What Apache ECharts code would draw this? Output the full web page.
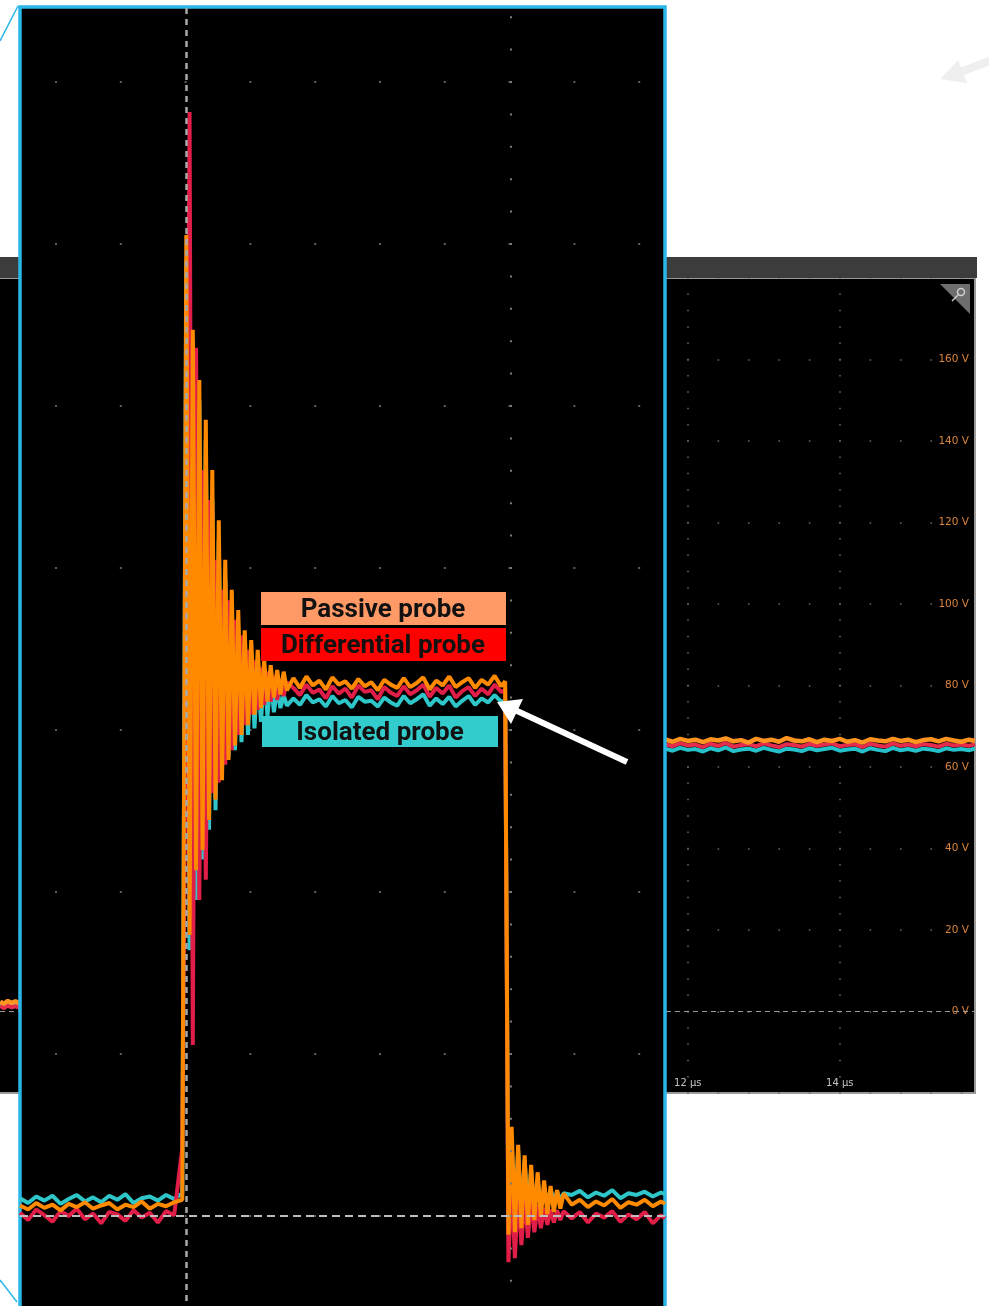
<!DOCTYPE html>
<html>
<head>
<meta charset="utf-8">
<title>Probe comparison</title>
<script src="https://cdn.jsdelivr.net/npm/echarts@6.0.0/dist/echarts.min.js"></script>
<style>
  html, body { margin: 0; padding: 0; background: #fff; }
  #main { width: 989px; height: 1306px; }
</style>
</head>
<body>
<div id="main"></div>
<script>
// full scope screen (time in µs, volts)
const scopeTime = [2.95, 3.0, 3.05, 3.1, 3.15, 3.2, 3.25,
  11.7, 11.8, 11.9, 12.0, 12.1, 12.2, 12.3, 12.4, 12.5, 12.6, 12.7, 12.8, 12.9,
  13.0, 13.1, 13.2, 13.3, 13.4, 13.5, 13.6, 13.7, 13.8, 13.9, 14.0, 14.1, 14.2, 14.3,
  14.4, 14.5, 14.6, 14.7, 14.8, 14.9, 15.0, 15.1, 15.2, 15.3, 15.4, 15.5, 15.6, 15.7, 15.78];
const scopePassive = [2.4, 1.9, 2.6, 2.1, 2.5, 2.0, null,
  66.8, 66.2, 66.9, 66.4, 66.7, 66.1, 66.8, 66.5, 67.0, 66.3, 66.6, 66.0, 66.9, 66.4,
  66.7, 66.2, 67.1, 66.5, 66.3, 66.8, 66.1, 66.7, 66.4, 66.9, 66.2, 66.6, 66.0, 66.8,
  66.5, 66.3, 66.9, 66.4, 66.7, 66.1, 66.6, 66.8, 66.3, 66.9, 66.5, 66.2, 66.7, 66.4];
const scopeDifferential = [1.4, 0.8, 1.5, 1.0, 1.3, 0.9, null,
  65.6, 65.1, 65.8, 65.3, 65.5, 64.9, 65.7, 65.2, 65.9, 65.0, 65.4, 65.6, 65.1, 65.8,
  65.3, 64.9, 65.6, 65.4, 65.0, 65.7, 65.2, 65.5, 65.8, 65.1, 65.4, 65.6, 64.9, 65.7,
  65.3, 65.0, 65.8, 65.2, 65.5, 65.1, 65.6, 65.4, 65.0, 65.7, 65.3, 65.5, 65.2, 65.6];
const scopeIsolated = [2.0, 1.6, 2.2, 1.7, 2.1, 1.5, null,
  64.5, 64.0, 64.7, 64.2, 64.4, 63.8, 64.6, 64.1, 64.8, 63.9, 64.3, 64.5, 64.0, 64.7,
  64.2, 63.8, 64.5, 64.3, 63.9, 64.6, 64.1, 64.4, 64.7, 64.0, 64.3, 64.5, 63.8, 64.6,
  64.2, 63.9, 64.7, 64.1, 64.4, 64.0, 64.5, 64.3, 63.9, 64.6, 64.2, 64.4, 64.1, 64.5];

// zoomed inset (time in ns from trigger, volts)
const zoomTime = [
  -1025, -975, -925, -875, -825, -775, -725, -675, -625, -575, -525, -475, -425, -375, -325, -275, -225, -175, -125, -75, -25,
  0, 20, 40, 60, 80, 100, 120, 140, 160, 180, 200, 220, 240, 260, 280, 300, 320, 340, 360, 380, 400, 420, 440, 460, 480, 500, 520, 540, 560, 580, 600, 620,
  660, 700, 740, 780, 820, 860, 900, 940, 980, 1020, 1060, 1100, 1140, 1180, 1220, 1260, 1300, 1340, 1380, 1420, 1460, 1500, 1540, 1580, 1620, 1660, 1700, 1740, 1780, 1820, 1860, 1900, 1940,
  1965,
  1985, 2005, 2025, 2045, 2065, 2085, 2105, 2125, 2145, 2165, 2185, 2205, 2225, 2245, 2265, 2285, 2305, 2325,
  2375, 2425, 2475, 2525, 2575, 2625, 2675, 2725, 2775, 2825, 2875, 2925, 2950];
const zoomPassive = [
  1.3, 0.8, 1.6, 1.0, 1.4, 0.7, 1.5, 1.1, 1.7, 0.9, 1.3, 1.6, 0.8, 1.4, 1.1, 1.8, 0.9, 1.5, 1.2, 1.7, 2.0,
  121.1, 34.7, 109.4, 42.7, 103.2, 45.2, 98.3, 48.9, 92.1, 51.4, 85.9, 53.8, 81.0, 56.3, 77.3, 58.1, 74.8, 59.4, 72.3, 60.6, 71.1, 61.9, 69.9, 62.7, 68.6, 63.5, 68.0, 64.0, 67.4, 64.4, 67.2, 64.9,
  66.4, 65.2, 66.6, 65.5, 66.1, 65.0, 66.5, 65.6, 66.0, 65.1, 66.3, 65.4, 65.9, 64.9, 66.2, 65.6, 65.2, 66.4, 65.3, 65.8, 66.5, 65.0, 66.1, 65.5, 66.6, 65.3, 65.9, 66.4, 65.2, 66.2, 65.6, 66.7, 65.4,
  66.0,
  -2.3, 11.0, -2.0, 8.8, -1.5, 7.5, -1.1, 6.3, -0.5, 5.4, -0.1, 4.4, 0.2, 3.7, 0.5, 3.2, 0.9, 2.8,
  1.4, 2.0, 1.1, 1.8, 1.3, 2.1, 1.0, 1.7, 1.4, 2.0, 1.2, 1.8, 1.5];
const zoomDifferential = [
  0.4, -0.5, 0.8, 0.1, -0.7, 0.6, 0.0, 0.9, -0.4, 0.3, -0.9, 0.5, 0.2, -0.6, 0.7, -0.2, 0.4, -0.8, 0.6, 0.1, 8.4,
  70.0, 136.3, 21.1, 107.2, 39.0, 92.1, 41.5, 88.4, 52.2, 81.0, 53.5, 77.3, 55.7, 76.0, 57.5, 73.6, 59.4, 71.7, 60.6, 69.9, 61.9, 68.6, 62.5, 67.7, 63.1, 67.2, 63.5, 66.7, 63.7, 66.2, 64.2, 65.9,
  65.2, 64.3, 65.6, 64.6, 65.0, 63.9, 65.4, 64.5, 65.1, 64.0, 65.5, 64.7, 64.9, 63.8, 65.3, 64.6, 64.2, 65.4, 64.4, 64.9, 65.6, 64.1, 65.2, 64.5, 65.5, 64.0, 64.8, 65.3, 64.2, 65.1, 64.4, 65.6, 64.7,
  64.9,
  -5.7, 4.4, -5.2, 3.2, -3.6, 2.6, -2.7, 2.0, -2.0, 1.4, -1.5, 1.0, -1.1, 0.8, -0.8, 0.7, -0.5, 0.6,
  -0.3, 0.5, -0.8, 0.3, -0.2, 0.6, -0.7, 0.2, -0.4, 0.5, -0.9, 0.1, -0.3];
const zoomIsolated = [
  2.2, 1.6, 2.4, 1.9, 2.5, 1.5, 2.1, 2.6, 1.8, 2.3, 1.7, 2.5, 2.0, 2.7, 1.6, 2.2, 2.4, 1.9, 2.6, 2.1, 2.8,
  118.0, 32.8, 108.1, 39.0, 100.7, 44.0, 95.8, 47.7, 88.4, 50.1, 83.5, 55.1, 78.5, 56.7, 74.8, 57.5, 72.3, 58.5, 70.5, 59.4, 69.3, 60.2, 68.0, 61.0, 67.2, 61.7, 66.2, 62.2, 65.2, 62.7, 64.3, 63.0,
  63.9, 63.1, 64.3, 63.4, 63.8, 62.9, 64.2, 63.3, 63.7, 62.8, 64.1, 63.5, 63.6, 62.9, 64.0, 63.4, 63.0, 64.2, 63.3, 63.8, 64.4, 63.0, 63.9, 63.2, 64.1, 62.9, 63.6, 64.2, 63.1, 63.9, 63.4, 64.3, 63.5,
  63.6,
  -1.7, 9.4, -1.1, 8.1, -0.5, 6.9, 0.1, 5.7, 0.7, 4.4, 1.2, 3.5, 1.5, 3.3, 1.8, 3.0, 2.0, 2.8,
  2.6, 3.1, 2.3, 2.9, 2.5, 3.2, 2.2, 2.8, 2.6, 3.0, 2.4, 2.9, 2.7];

const voltTicks = [0, 20, 40, 60, 80, 100, 120, 140, 160];
const timeTicks = [12, 14];
const probeLabels = ['Passive probe', 'Differential probe', 'Isolated probe'];

const pairs = (t, v) => t.map((x, i) => [x, v[i]]);

const chart = echarts.init(document.getElementById('main'), null, { renderer: 'canvas' });

const trace = (name, t, v, color, axis, z, width) => ({
  name: name,
  type: 'line',
  xAxisIndex: axis,
  yAxisIndex: axis,
  data: pairs(t, v),
  showSymbol: false,
  symbol: 'none',
  z: z,
  lineStyle: { color: color, width: width, join: 'bevel' },
  silent: true
});

const zoomOrange = trace(probeLabels[0], zoomTime, zoomPassive, '#ff8a00', 1, 7, 4);
zoomOrange.markLine = {
  silent: true,
  symbol: 'none',
  z: 8,
  label: { show: false },
  animation: false,
  data: [
    { xAxis: 0, lineStyle: { color: '#a8a8a8', width: 2.5, type: [6, 5] } },
    { yAxis: 0, lineStyle: { color: '#bdbdbd', width: 2, type: [8, 5] } },
    { xAxis: 2000, lineStyle: { color: '#7a7a7a', width: 2, type: [2, 30.4], dashOffset: 1 } }
  ]
};

const scopeOrange = trace(probeLabels[0], scopeTime, scopePassive, '#ff9420', 0, 2, 4.5);
scopeOrange.markLine = {
  silent: true,
  symbol: 'none',
  z: 1,
  label: { show: false },
  animation: false,
  data: [{ yAxis: 0, lineStyle: { color: '#9a9a9a', width: 1, type: [5, 4] } }]
};

chart.setOption({
  animation: false,
  backgroundColor: '#fff',
  grid: [
    { left: -72, right: 14, top: 278, bottom: 213, show: true, backgroundColor: '#000',
      borderColor: '#9a9a9a', borderWidth: 2, outerBoundsMode: 'none', containLabel: false, z: 0 },
    { left: 20, right: 324, top: 7, bottom: -72, show: true, backgroundColor: '#000',
      borderColor: '#2bb6e8', borderWidth: 3.5, outerBoundsMode: 'none', containLabel: false, z: 3 }
  ],
  xAxis: [
    { type: 'value', gridIndex: 0, min: 2, max: 15.78, interval: 2,
      axisLine: { show: false }, axisTick: { show: false },
      axisLabel: { inside: true, margin: 5, color: '#c4c4c4', fontSize: 10, fontFamily: 'DejaVu Sans',
        formatter: v => timeTicks.includes(v) ? v + ' µs' : '' },
      splitLine: { show: true, showMaxLine: false,
        lineStyle: { color: '#6a6a6a', width: 1.5, type: [1.5, 14.8], dashOffset: 0.75 } } },
    { type: 'value', gridIndex: 1, min: -1025, max: 2950, show: false, splitLine: { show: false } }
  ],
  yAxis: [
    { type: 'value', gridIndex: 0, position: 'right', min: -20, max: 180, interval: 20,
      axisLine: { show: false }, axisTick: { show: false },
      axisLabel: { inside: true, margin: 5, color: '#d9843c', fontSize: 10.5, fontFamily: 'DejaVu Sans',
        backgroundColor: '#000', padding: [0, 1],
        formatter: v => voltTicks.includes(v) ? v + ' V' : '' },
      splitLine: { show: true,
        lineStyle: { color: '#6a6a6a', width: 1.5, type: [1.5, 28.9], dashOffset: 0.75 } } },
    { type: 'value', gridIndex: 1, min: -20, max: 149.26, interval: 20, z: 4,
      axisLine: { show: false }, axisTick: { show: false }, axisLabel: { show: false },
      splitLine: { show: true, showMaxLine: false,
        lineStyle: { color: '#5e5e5e', width: 2, type: [2, 62.8], dashOffset: 29.8 } } }
  ],
  series: [
    trace(probeLabels[2], scopeTime, scopeIsolated, '#25c2cc', 0, 2, 4),
    trace(probeLabels[1], scopeTime, scopeDifferential, '#e62c4c', 0, 2, 4),
    scopeOrange,
    trace(probeLabels[2], zoomTime, zoomIsolated, '#2ec6c8', 1, 5, 4),
    trace(probeLabels[1], zoomTime, zoomDifferential, '#e01e48', 1, 6, 4),
    zoomOrange
  ],
  graphic: { elements: [
    // scope title bar and trigger icon
    { type: 'rect', z: 1, shape: { x: 0, y: 257, width: 977, height: 21 }, style: { fill: '#3c3c3c' } },
    { type: 'polygon', z: 1, shape: { points: [[940, 284], [970, 284], [970, 314]] }, style: { fill: '#6e6e6e' } },
    { type: 'circle', z: 1, shape: { cx: 961, cy: 292, r: 3.5 }, style: { fill: 'none', stroke: '#d0d0d0', lineWidth: 1.5 } },
    { type: 'line', z: 1, shape: { x1: 958, y1: 295, x2: 952, y2: 301 }, style: { stroke: '#d0d0d0', lineWidth: 1.5 } },
    // zoom callout lines
    { type: 'line', z: 20, shape: { x1: 18, y1: 6, x2: 0, y2: 41 }, style: { stroke: '#2bb6e8', lineWidth: 1.5 } },
    { type: 'line', z: 20, shape: { x1: 17, y1: 1302, x2: 0, y2: 1280 }, style: { stroke: '#2bb6e8', lineWidth: 1.5 } },
    // probe labels
    { type: 'rect', z: 20, shape: { x: 261, y: 592, width: 245, height: 33 }, style: { fill: '#ff9966' } },
    { type: 'text', z: 21, style: { text: probeLabels[0], x: 383, y: 610, align: 'center', verticalAlign: 'middle',
      font: 'bold 26px Roboto', fill: '#111' } },
    { type: 'rect', z: 20, shape: { x: 261, y: 628, width: 245, height: 33 }, style: { fill: '#ff0000' } },
    { type: 'text', z: 21, style: { text: probeLabels[1], x: 383, y: 646, align: 'center', verticalAlign: 'middle',
      font: 'bold 26px Roboto', fill: '#111' } },
    { type: 'rect', z: 20, shape: { x: 262, y: 716, width: 236, height: 31 }, style: { fill: '#33cccc' } },
    { type: 'text', z: 21, style: { text: probeLabels[2], x: 380, y: 733, align: 'center', verticalAlign: 'middle',
      font: 'bold 26px Roboto', fill: '#111' } },
    // white pointer arrow
    { type: 'line', z: 20, shape: { x1: 627, y1: 762, x2: 515, y2: 710 }, style: { stroke: '#fff', lineWidth: 6 } },
    { type: 'polygon', z: 20, shape: { points: [[497, 702], [523, 699], [511, 724]] }, style: { fill: '#fff' } },
    // faint arrow top right
    { type: 'line', z: 20, shape: { x1: 992, y1: 60, x2: 958, y2: 73 }, style: { stroke: '#efefef', lineWidth: 8 } },
    { type: 'polygon', z: 20, shape: { points: [[940, 79], [958, 60], [967, 83]] }, style: { fill: '#efefef' } }
  ] }
});
</script>
</body>
</html>
